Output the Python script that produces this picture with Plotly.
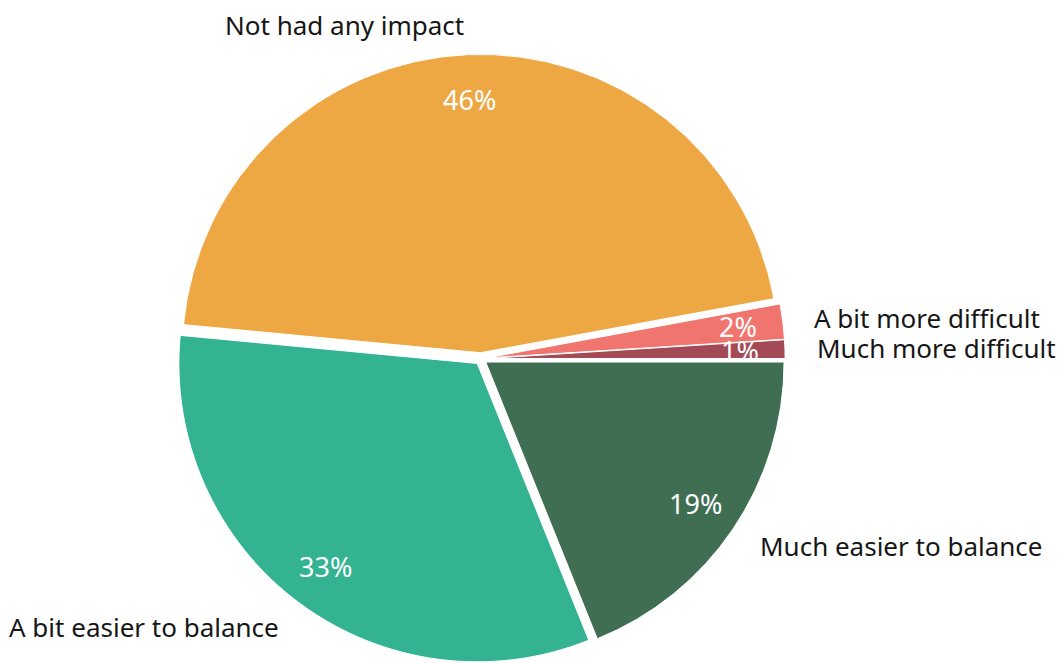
import numpy as np
import plotly.graph_objects as go

# Survey answers, listed clockwise from 3 o'clock
categories = [
    "Much easier to balance",
    "A bit easier to balance",
    "Not had any impact",
    "A bit more difficult",
    "Much more difficult",
]
shares = [18.9, 32.6, 45.6, 1.9, 1.0]
slice_colors = ["#406E53", "#34B393", "#EEA843", "#EF756E", "#A34A56"]

WIDTH, HEIGHT = 1059, 663
PULL = 0.02                 # every slice is nudged out a little
DOMAIN_X = [0.154, 0.754]
DOMAIN_Y = [0.0, 0.918]
PCT_RADIUS = 0.87           # percentage labels, in units of the pie radius
LABEL_RADIUS = 1.12         # category names, just outside the rim
FONT = "Noto Sans"

vals = np.asarray(shares, dtype=float)
frac = vals / vals.sum()
pct_text = [f"{round(f * 100):d}%" for f in frac]

# mid angle of each slice, measured clockwise from 3 o'clock
mid = (np.cumsum(frac) - frac / 2) * 2 * np.pi
ux = np.cos(mid)
uy = -np.sin(mid)

fig = go.Figure()
fig.add_trace(
    go.Pie(
        labels=categories,
        values=shares,
        sort=False,
        direction="clockwise",
        rotation=90,
        pull=PULL,
        textinfo="none",
        hoverinfo="label+percent",
        marker=dict(colors=slice_colors, line=dict(color="white", width=1)),
        domain=dict(x=DOMAIN_X, y=DOMAIN_Y),
        showlegend=False,
    )
)

# Hidden full-page axes whose origin sits on the pie centre and whose unit
# equals the pie radius (plotly shrinks the radius by 1 + pull).
rx = (DOMAIN_X[1] - DOMAIN_X[0]) * WIDTH / 2
ry = (DOMAIN_Y[1] - DOMAIN_Y[0]) * HEIGHT / 2
r_px = min(rx, ry) / (1 + PULL)
cx = (DOMAIN_X[0] + DOMAIN_X[1]) / 2
cy = (DOMAIN_Y[0] + DOMAIN_Y[1]) / 2
x_range = [-cx * WIDTH / r_px, (1 - cx) * WIDTH / r_px]
y_range = [-cy * HEIGHT / r_px, (1 - cy) * HEIGHT / r_px]

annotations = []
for i, name in enumerate(categories):
    annotations.append(
        dict(
            x=PCT_RADIUS * ux[i], y=PCT_RADIUS * uy[i], xref="x", yref="y",
            text=pct_text[i], showarrow=False,
            xanchor="center", yanchor="middle",
            font=dict(family=FONT, size=27, color="white"),
        )
    )
    annotations.append(
        dict(
            x=LABEL_RADIUS * ux[i], y=LABEL_RADIUS * uy[i], xref="x", yref="y",
            text=name, showarrow=False,
            xanchor="left" if ux[i] > 0 else "right", yanchor="middle",
            font=dict(family=FONT, size=26, color="#161616"),
        )
    )

fig.update_layout(
    width=WIDTH,
    height=HEIGHT,
    margin=dict(l=0, r=0, t=0, b=0),
    paper_bgcolor="white",
    plot_bgcolor="white",
    font=dict(family=FONT),
    xaxis=dict(domain=[0, 1], range=x_range, visible=False, fixedrange=True),
    yaxis=dict(domain=[0, 1], range=y_range, visible=False, fixedrange=True),
    annotations=annotations,
)

fig.write_html("out.html")
